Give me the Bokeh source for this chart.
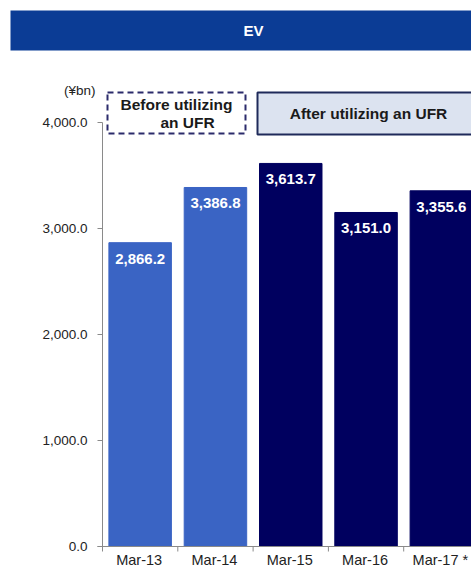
from bokeh.plotting import figure
from bokeh.models import ColumnDataSource, BoxAnnotation, Label
from bokeh.core.properties import value
from bokeh.embed import file_html
from bokeh.resources import INLINE

# EV (embedded value), ¥bn, fiscal year-end
periods = ["Mar-13", "Mar-14", "Mar-15", "Mar-16", "Mar-17 *"]
ev_values = [2866.2, 3386.8, 3613.7, 3151.0, 3355.6]
basis = ["before", "before", "after", "after", "after"]
y_ticks = [0, 1000, 2000, 3000, 4000]

LIGHT = "#3A64C4"
DARK = "#00005F"
BANNER = "#0B3C95"
AXIS = "#8A8A8A"
INK = "#1A1A1A"
TICK_INK = "#222222"
FONT = "Liberation Sans"

W, H = 471, 569
AXIS_X, BOTTOM = 102, 546        # y-axis position / baseline in canvas pixels
PX_PER_CAT = 75.3
PX_PER_UNIT = 424 / 4000.0       # vertical pixels per ¥bn


def dx(px):
    """canvas x pixel -> data x"""
    return (px - AXIS_X) / PX_PER_CAT - 0.5


def dy(py):
    """canvas y pixel -> data y"""
    return (BOTTOM - py) / PX_PER_UNIT


xs = list(range(len(periods)))
bars = ColumnDataSource(dict(
    x=xs,
    ev=ev_values,
    color=[LIGHT if b == "before" else DARK for b in basis],
    text=[f"{v:,.1f}" for v in ev_values],
    label=periods,
))
yt = ColumnDataSource(dict(y=y_ticks, text=[f"{v:,.1f}" for v in y_ticks]))
bounds = [i - 0.5 for i in range(len(periods) + 1)]

p = figure(width=W, height=H, output_backend="svg", toolbar_location=None,
           x_range=(dx(0), dx(W)), y_range=(dy(H), dy(0)),
           min_border=0)
p.outline_line_color = None
p.grid.visible = False
p.axis.visible = False
p.background_fill_color = "white"
p.border_fill_color = "white"

p.vbar(x="x", top="ev", width=0.83, color="color", source=bars)
p.text(x="x", y="ev", text="text", source=bars, y_offset=16,
       text_align="center", text_baseline="middle", text_color="white",
       text_font=value(FONT), text_font_style="bold", text_font_size="15px")

# value axis on the left of the first category
ax0 = dx(AXIS_X)
p.segment(x0=ax0, y0=0, x1=ax0, y1=max(y_ticks), line_color=AXIS, line_width=1)
p.ray(x=ax0, y="y", length=5, length_units="screen", angle=180, angle_units="deg",
      line_color=AXIS, line_width=1, source=yt)
p.text(x=ax0, y="y", text="text", source=yt, x_offset=-15,
       text_align="right", text_baseline="middle", text_color=TICK_INK,
       text_font=value(FONT), text_font_size="13.5px")
p.text(x=ax0, y=dy(90), text=["(¥bn)"], x_offset=-7,
       text_align="right", text_baseline="middle", text_color=TICK_INK,
       text_font=value(FONT), text_font_size="13.5px")

# category axis: baseline, tick marks at category boundaries, labels at bar centres
p.segment(x0=dx(97), y0=0, x1=dx(W + 20), y1=0, line_color=AXIS, line_width=1)
p.ray(x=bounds, y=0, length=5, length_units="screen", angle=-90, angle_units="deg",
      line_color=AXIS, line_width=1)
p.text(x="x", y=0, text="label", source=bars, y_offset=13, x_offset=-1,
       text_align="center", text_baseline="middle", text_color=TICK_INK,
       text_font=value(FONT), text_font_size="14.5px")

# title banner
p.add_layout(BoxAnnotation(left=dx(10), right=dx(W + 30), top=dy(10), bottom=dy(50),
                           fill_color=BANNER, fill_alpha=1, line_color=None))
p.add_layout(Label(x=dx(253), y=dy(30), text="EV", text_align="center",
                   text_baseline="middle", text_color="white", text_font=FONT,
                   text_font_style="bold", text_font_size="15px"))

# basis boxes
p.add_layout(BoxAnnotation(left=dx(107), right=dx(245), top=dy(92), bottom=dy(133),
                           fill_color="white", fill_alpha=1, line_color="#2B2B6B",
                           line_alpha=1, line_width=2, line_dash="6 4"))
p.add_layout(Label(x=dx(176), y=dy(104), text="Before utilizing", text_align="center",
                   text_baseline="middle", text_color=INK, text_font=FONT,
                   text_font_style="bold", text_font_size="15.5px"))
p.add_layout(Label(x=dx(187), y=dy(122), text="an UFR", text_align="center",
                   text_baseline="middle", text_color=INK, text_font=FONT,
                   text_font_style="bold", text_font_size="15.5px"))

p.add_layout(BoxAnnotation(left=dx(257), right=dx(W + 30), top=dy(92), bottom=dy(134),
                           fill_color="#DCE3F0", fill_alpha=1, line_color="#1F2A5A",
                           line_alpha=1, line_width=2))
p.add_layout(Label(x=dx(368), y=dy(113), text="After utilizing an UFR", text_align="center",
                   text_baseline="middle", text_color=INK, text_font=FONT,
                   text_font_style="bold", text_font_size="15.5px"))

open("out.html", "w").write(file_html(p, INLINE))
